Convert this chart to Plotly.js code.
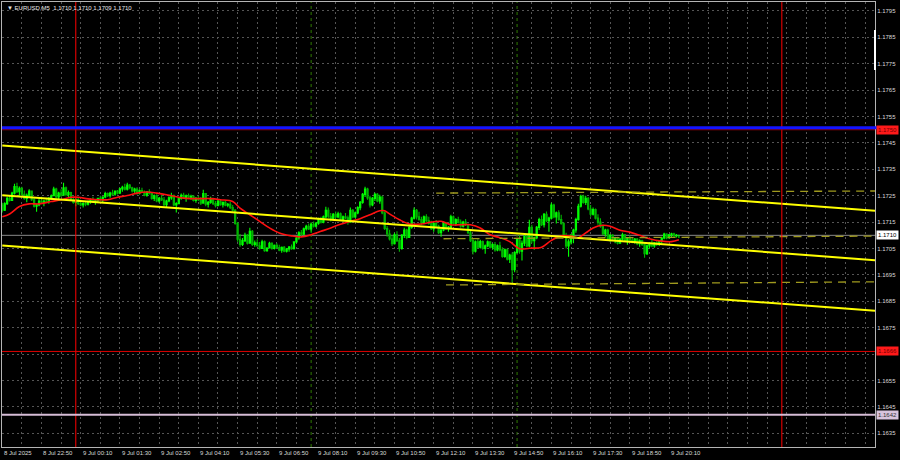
<!DOCTYPE html>
<html>
<head>
<meta charset="utf-8">
<script src="https://cdn.plot.ly/plotly-3.0.1.min.js"></script>
<style>
  html, body { margin: 0; padding: 0; background: #000; }
  #chart { width: 900px; height: 460px; }
</style>
</head>
<body>
<div id="chart"></div>
<script>
// EURUSD M5 candles, bar 0 = 8 Jul 21:30
const opens = [
 1.17215,1.17195,1.17220,1.17240,1.17232,1.17260,1.17285,1.17265,1.17278,1.17255,
 1.17240,1.17252,1.17268,1.17235,1.17210,1.17215,1.17230,1.17225,1.17230,1.17228,
 1.17240,1.17250,1.17275,1.17245,1.17260,1.17252,1.17280,1.17255,1.17262,1.17235,
 1.17225,1.17236,1.17220,1.17215,1.17220,1.17218,1.17228,1.17235,1.17226,1.17232,
 1.17240,1.17234,1.17245,1.17258,1.17250,1.17260,1.17256,1.17268,1.17260,1.17276,
 1.17282,1.17275,1.17290,1.17280,1.17268,1.17275,1.17260,1.17270,1.17263,1.17252,
 1.17265,1.17258,1.17240,1.17250,1.17230,1.17240,1.17234,1.17216,1.17230,1.17242,
 1.17250,1.17215,1.17220,1.17240,1.17252,1.17242,1.17250,1.17244,1.17248,1.17232,
 1.17240,1.17235,1.17222,1.17258,1.17218,1.17225,1.17238,1.17220,1.17212,1.17230,
 1.17216,1.17225,1.17214,1.17218,1.17205,1.17195,1.17145,1.17085,1.17065,1.17080,
 1.17100,1.17070,1.17115,1.17065,1.17072,1.17060,1.17050,1.17075,1.17042,1.17052,
 1.17070,1.17050,1.17062,1.17054,1.17044,1.17055,1.17040,1.17048,1.17056,1.17049,
 1.17075,1.17090,1.17110,1.17104,1.17125,1.17134,1.17124,1.17142,1.17135,1.17146,
 1.17160,1.17150,1.17170,1.17195,1.17172,1.17160,1.17180,1.17170,1.17182,1.17160,
 1.17170,1.17166,1.17150,1.17195,1.17170,1.17185,1.17205,1.17225,1.17255,1.17275,
 1.17242,1.17215,1.17240,1.17255,1.17230,1.17245,1.17185,1.17126,1.17105,1.17086,
 1.17068,1.17102,1.17080,1.17050,1.17100,1.17120,1.17092,1.17130,1.17165,1.17195,
 1.17170,1.17160,1.17148,1.17170,1.17155,1.17145,1.17125,1.17145,1.17134,1.17110,
 1.17120,1.17145,1.17125,1.17130,1.17170,1.17145,1.17160,1.17150,1.17135,1.17150,
 1.17140,1.17110,1.17080,1.17040,1.17075,1.17055,1.17076,1.17050,1.17060,1.17075,
 1.17055,1.17065,1.17045,1.17060,1.17045,1.17020,1.17045,1.17010,1.17025,1.16970,
 1.17035,1.17085,1.17040,1.17070,1.17095,1.17060,1.17130,1.17080,1.17090,1.17130,
 1.17160,1.17140,1.17180,1.17155,1.17165,1.17215,1.17170,1.17185,1.17160,1.17145,
 1.17095,1.17060,1.17075,1.17100,1.17120,1.17160,1.17210,1.17248,1.17225,1.17240,
 1.17200,1.17180,1.17198,1.17165,1.17150,1.17135,1.17105,1.17120,1.17086,1.17100,
 1.17085,1.17090,1.17070,1.17085,1.17102,1.17080,1.17090,1.17082,1.17075,1.17086,
 1.17068,1.17080,1.17065,1.17030,1.17060,1.17070,1.17060,1.17072,1.17065,1.17080,
 1.17090,1.17105,1.17090,1.17102,1.17106,1.17098,1.17100
];
const highs = [
 1.17223,1.17225,1.17246,1.17250,1.17265,1.17295,1.17299,1.17285,1.17284,1.17270,
 1.17258,1.17275,1.17270,1.17242,1.17220,1.17238,1.17246,1.17235,1.17242,1.17245,
 1.17255,1.17284,1.17280,1.17265,1.17275,1.17299,1.17285,1.17270,1.17265,1.17246,
 1.17240,1.17242,1.17235,1.17225,1.17230,1.17232,1.17240,1.17246,1.17238,1.17242,
 1.17250,1.17248,1.17265,1.17262,1.17265,1.17273,1.17270,1.17272,1.17280,1.17288,
 1.17295,1.17299,1.17294,1.17284,1.17280,1.17282,1.17275,1.17280,1.17270,1.17268,
 1.17275,1.17261,1.17255,1.17256,1.17245,1.17254,1.17245,1.17235,1.17248,1.17261,
 1.17255,1.17225,1.17245,1.17258,1.17261,1.17255,1.17258,1.17254,1.17252,1.17245,
 1.17250,1.17245,1.17273,1.17260,1.17230,1.17246,1.17242,1.17230,1.17235,1.17235,
 1.17228,1.17232,1.17222,1.17227,1.17215,1.17200,1.17150,1.17105,1.17090,1.17110,
 1.17105,1.17129,1.17120,1.17080,1.17085,1.17075,1.17083,1.17080,1.17055,1.17076,
 1.17074,1.17065,1.17070,1.17064,1.17058,1.17060,1.17052,1.17060,1.17065,1.17078,
 1.17095,1.17115,1.17120,1.17130,1.17140,1.17145,1.17148,1.17152,1.17150,1.17167,
 1.17170,1.17175,1.17208,1.17205,1.17185,1.17185,1.17190,1.17189,1.17186,1.17175,
 1.17185,1.17175,1.17205,1.17200,1.17190,1.17210,1.17230,1.17260,1.17284,1.17280,
 1.17250,1.17245,1.17261,1.17260,1.17254,1.17250,1.17190,1.17135,1.17121,1.17100,
 1.17110,1.17115,1.17090,1.17105,1.17129,1.17125,1.17135,1.17170,1.17205,1.17200,
 1.17189,1.17170,1.17175,1.17180,1.17170,1.17155,1.17150,1.17158,1.17140,1.17125,
 1.17152,1.17150,1.17135,1.17178,1.17175,1.17165,1.17170,1.17160,1.17155,1.17162,
 1.17145,1.17120,1.17090,1.17080,1.17085,1.17083,1.17080,1.17065,1.17080,1.17076,
 1.17070,1.17075,1.17065,1.17076,1.17055,1.17050,1.17050,1.17030,1.17035,1.17040,
 1.17090,1.17100,1.17080,1.17102,1.17100,1.17159,1.17140,1.17095,1.17135,1.17167,
 1.17175,1.17185,1.17190,1.17170,1.17223,1.17220,1.17190,1.17195,1.17178,1.17150,
 1.17110,1.17085,1.17105,1.17125,1.17167,1.17220,1.17254,1.17254,1.17250,1.17245,
 1.17215,1.17205,1.17202,1.17180,1.17165,1.17140,1.17125,1.17125,1.17105,1.17105,
 1.17095,1.17095,1.17090,1.17110,1.17105,1.17092,1.17100,1.17091,1.17090,1.17090,
 1.17085,1.17083,1.17070,1.17065,1.17075,1.17083,1.17075,1.17080,1.17082,1.17095,
 1.17110,1.17108,1.17105,1.17110,1.17110,1.17105,1.17100
];
const lows = [
 1.17186,1.17192,1.17215,1.17228,1.17230,1.17255,1.17260,1.17250,1.17250,1.17235,
 1.17225,1.17245,1.17230,1.17205,1.17189,1.17210,1.17220,1.17210,1.17222,1.17220,
 1.17235,1.17248,1.17240,1.17238,1.17245,1.17250,1.17248,1.17240,1.17230,1.17220,
 1.17210,1.17215,1.17210,1.17205,1.17210,1.17213,1.17220,1.17223,1.17216,1.17225,
 1.17230,1.17223,1.17240,1.17245,1.17242,1.17252,1.17250,1.17255,1.17258,1.17265,
 1.17270,1.17270,1.17275,1.17262,1.17258,1.17254,1.17255,1.17260,1.17248,1.17246,
 1.17255,1.17235,1.17230,1.17225,1.17223,1.17230,1.17210,1.17205,1.17225,1.17235,
 1.17210,1.17186,1.17218,1.17235,1.17238,1.17227,1.17238,1.17235,1.17228,1.17223,
 1.17230,1.17215,1.17220,1.17210,1.17205,1.17220,1.17215,1.17205,1.17210,1.17212,
 1.17205,1.17210,1.17206,1.17200,1.17189,1.17140,1.17076,1.17057,1.17060,1.17075,
 1.17065,1.17068,1.17060,1.17057,1.17058,1.17045,1.17048,1.17038,1.17038,1.17050,
 1.17045,1.17046,1.17050,1.17040,1.17034,1.17036,1.17035,1.17038,1.17045,1.17046,
 1.17070,1.17083,1.17098,1.17100,1.17118,1.17120,1.17110,1.17130,1.17130,1.17140,
 1.17145,1.17146,1.17165,1.17165,1.17152,1.17155,1.17165,1.17165,1.17155,1.17152,
 1.17162,1.17140,1.17148,1.17165,1.17165,1.17180,1.17195,1.17220,1.17245,1.17235,
 1.17205,1.17210,1.17230,1.17225,1.17220,1.17180,1.17120,1.17095,1.17080,1.17060,
 1.17065,1.17075,1.17038,1.17045,1.17090,1.17085,1.17090,1.17125,1.17160,1.17160,
 1.17155,1.17140,1.17145,1.17150,1.17140,1.17120,1.17114,1.17130,1.17105,1.17095,
 1.17115,1.17120,1.17114,1.17128,1.17140,1.17135,1.17145,1.17129,1.17130,1.17135,
 1.17105,1.17075,1.17027,1.17035,1.17050,1.17050,1.17045,1.17030,1.17055,1.17050,
 1.17045,1.17038,1.17040,1.17040,1.17015,1.17015,1.17005,1.16995,1.16921,1.16960,
 1.17030,1.17030,1.17005,1.17060,1.17055,1.17055,1.17070,1.17045,1.17085,1.17120,
 1.17135,1.17130,1.17150,1.17114,1.17160,1.17165,1.17145,1.17155,1.17140,1.17090,
 1.17050,1.17019,1.17065,1.17070,1.17110,1.17155,1.17205,1.17220,1.17215,1.17195,
 1.17170,1.17175,1.17160,1.17140,1.17129,1.17100,1.17095,1.17080,1.17076,1.17080,
 1.17070,1.17065,1.17068,1.17080,1.17075,1.17064,1.17078,1.17070,1.17068,1.17062,
 1.17057,1.17060,1.17015,1.17025,1.17050,1.17055,1.17053,1.17060,1.17060,1.17070,
 1.17085,1.17085,1.17088,1.17092,1.17095,1.17092,1.17090
];
const closes = [
 1.17195,1.17220,1.17240,1.17232,1.17260,1.17285,1.17265,1.17278,1.17255,1.17240,
 1.17252,1.17268,1.17235,1.17210,1.17215,1.17230,1.17225,1.17230,1.17228,1.17240,
 1.17250,1.17275,1.17245,1.17260,1.17252,1.17280,1.17255,1.17262,1.17235,1.17225,
 1.17236,1.17220,1.17215,1.17220,1.17218,1.17228,1.17235,1.17226,1.17232,1.17240,
 1.17234,1.17245,1.17258,1.17250,1.17260,1.17256,1.17268,1.17260,1.17276,1.17282,
 1.17275,1.17290,1.17280,1.17268,1.17275,1.17260,1.17270,1.17263,1.17252,1.17265,
 1.17258,1.17240,1.17250,1.17230,1.17240,1.17234,1.17216,1.17230,1.17242,1.17250,
 1.17215,1.17220,1.17240,1.17252,1.17242,1.17250,1.17244,1.17248,1.17232,1.17240,
 1.17235,1.17222,1.17258,1.17218,1.17225,1.17238,1.17220,1.17212,1.17230,1.17216,
 1.17225,1.17214,1.17218,1.17205,1.17195,1.17145,1.17085,1.17065,1.17080,1.17100,
 1.17070,1.17115,1.17065,1.17072,1.17060,1.17050,1.17075,1.17042,1.17052,1.17070,
 1.17050,1.17062,1.17054,1.17044,1.17055,1.17040,1.17048,1.17056,1.17049,1.17075,
 1.17090,1.17110,1.17104,1.17125,1.17134,1.17124,1.17142,1.17135,1.17146,1.17160,
 1.17150,1.17170,1.17195,1.17172,1.17160,1.17180,1.17170,1.17182,1.17160,1.17170,
 1.17166,1.17150,1.17195,1.17170,1.17185,1.17205,1.17225,1.17255,1.17275,1.17242,
 1.17215,1.17240,1.17255,1.17230,1.17245,1.17185,1.17126,1.17105,1.17086,1.17068,
 1.17102,1.17080,1.17050,1.17100,1.17120,1.17092,1.17130,1.17165,1.17195,1.17170,
 1.17160,1.17148,1.17170,1.17155,1.17145,1.17125,1.17145,1.17134,1.17110,1.17120,
 1.17145,1.17125,1.17130,1.17170,1.17145,1.17160,1.17150,1.17135,1.17150,1.17140,
 1.17110,1.17080,1.17040,1.17075,1.17055,1.17076,1.17050,1.17060,1.17075,1.17055,
 1.17065,1.17045,1.17060,1.17045,1.17020,1.17045,1.17010,1.17025,1.16970,1.17035,
 1.17085,1.17040,1.17070,1.17095,1.17060,1.17130,1.17080,1.17090,1.17130,1.17160,
 1.17140,1.17180,1.17155,1.17165,1.17215,1.17170,1.17185,1.17160,1.17145,1.17095,
 1.17060,1.17075,1.17100,1.17120,1.17160,1.17210,1.17248,1.17225,1.17240,1.17200,
 1.17180,1.17198,1.17165,1.17150,1.17135,1.17105,1.17120,1.17086,1.17100,1.17085,
 1.17090,1.17070,1.17085,1.17102,1.17080,1.17090,1.17082,1.17075,1.17086,1.17068,
 1.17080,1.17065,1.17030,1.17060,1.17070,1.17060,1.17072,1.17065,1.17080,1.17090,
 1.17105,1.17090,1.17102,1.17106,1.17098,1.17100,1.17100
];

// moving average (red), sampled along the bars
const maBars = [0,3,7,11,15,20,24,28,31,35,39,43,47,51,55,59,63,67,69,74,
  80,85,89,94,97,101,105,109,113,118,122,126,130,134,138,142,146,150,154,156,
  158,162,166,171,175,179,183,187,191,195,199,203,207,211,215,220,224,228,232,235,
  238,241,245,248,252,256,260,264,269,273,276];
const maValues = [1.17170,1.17181,1.17209,1.17219,1.17219,1.17228,1.17235,1.17244,1.17244,1.17238,
  1.17235,1.17235,1.17244,1.17251,1.17260,1.17264,1.17260,1.17254,1.17250,1.17241,
  1.17239,1.17239,1.17235,1.17228,1.17203,1.17178,1.17153,1.17128,1.17109,1.17098,
  1.17094,1.17102,1.17115,1.17128,1.17142,1.17153,1.17163,1.17178,1.17193,1.17193,
  1.17181,1.17159,1.17143,1.17143,1.17150,1.17153,1.17140,1.17140,1.17140,1.17128,
  1.17102,1.17091,1.17076,1.17049,1.17051,1.17055,1.17081,1.17098,1.17097,1.17091,
  1.17109,1.17128,1.17138,1.17134,1.17119,1.17112,1.17100,1.17087,1.17078,1.17076,
  1.17083];

// descending price channel (yellow), two anchor points each
const channelBars  = [0, 356];
const channelUpper = [1.17440, 1.17193];
const channelMid   = [1.17252, 1.17006];
const channelLower = [1.17061, 1.16814];

// horizontal dashed channel (olive)
const flatUpperBars = [177, 356], flatUpper = [1.17260, 1.17268];
const flatMidBars   = [180, 356], flatMid   = [1.17087, 1.17097];
const flatLowerBars = [181, 356], flatLower = [1.16912, 1.16924];

// levels
const blueLevel = 1.17508;
const redLevels = [1.1750, 1.1666];
const lilacLevel = 1.1642;

// session markers
const daySeparators = [30, 318];
const sessionMarks = [126, 210];

// axes
const priceTicks = [1.1635,1.1645,1.1655,1.1665,1.1675,1.1685,1.1695,1.1705,1.1715,
  1.1725,1.1735,1.1745,1.1755,1.1765,1.1775,1.1785,1.1795];
const gridBars = [0,8,16,24,32,40,48,56,64,72,80,88,96,104,112,120,128,136,144,152,
  160,168,176,184,192,200,208,216,224,232,240,248,256,264,272,280,288,296,304,312,
  320,328,336,344,352];
const timeLabelBars = [0,16,32,48,64,80,96,112,128,144,160,176,192,208,224,240,256,272];
const timeLabels = ["8 Jul 2025","8 Jul 22:50","9 Jul 00:10","9 Jul 01:30","9 Jul 02:50",
  "9 Jul 04:10","9 Jul 05:30","9 Jul 06:50","9 Jul 08:10","9 Jul 09:30","9 Jul 10:50",
  "9 Jul 12:10","9 Jul 13:30","9 Jul 14:50","9 Jul 16:10","9 Jul 17:30","9 Jul 18:50",
  "9 Jul 20:10"];

const FONT = "Liberation Sans, Arial, sans-serif";
const bars = opens.map((_, i) => i);
const last = opens.length - 1;
const lastClose = closes[last];
const tagPrices = [redLevels[0], redLevels[1], lilacLevel, lastClose];

const traces = [
  {
    type: 'candlestick', x: bars, open: opens, high: highs, low: lows, close: closes,
    increasing: { line: { color: '#00ff00', width: 1.1 }, fillcolor: '#00ff00' },
    decreasing: { line: { color: '#00b400', width: 1.1 }, fillcolor: '#00b400' },
    whiskerwidth: 0, hoverinfo: 'skip'
  },
  { type: 'scatter', mode: 'lines', x: maBars, y: maValues,
    line: { color: '#ff1010', width: 1.6, shape: 'spline' }, hoverinfo: 'skip' },
  { type: 'scatter', mode: 'lines', x: channelBars, y: channelUpper,
    line: { color: '#ffff00', width: 2 }, hoverinfo: 'skip' },
  { type: 'scatter', mode: 'lines', x: channelBars, y: channelMid,
    line: { color: '#ffff00', width: 2 }, hoverinfo: 'skip' },
  { type: 'scatter', mode: 'lines', x: channelBars, y: channelLower,
    line: { color: '#ffff00', width: 2 }, hoverinfo: 'skip' },
  { type: 'scatter', mode: 'lines', x: flatUpperBars, y: flatUpper,
    line: { color: '#a09a1e', width: 1.3, dash: '8px,6px' }, hoverinfo: 'skip' },
  { type: 'scatter', mode: 'lines', x: flatMidBars, y: flatMid,
    line: { color: '#a09a1e', width: 1.3, dash: '8px,6px' }, hoverinfo: 'skip' },
  { type: 'scatter', mode: 'lines', x: flatLowerBars, y: flatLower,
    line: { color: '#a09a1e', width: 1.3, dash: '8px,6px' }, hoverinfo: 'skip' }
];

const shapes = [];
// bid line
shapes.push({ type: 'line', xref: 'paper', x0: 0, x1: 1, yref: 'y', y0: lastClose, y1: lastClose,
  line: { color: '#8a8a8a', width: 1 }, layer: 'below' });
daySeparators.forEach(b => shapes.push({ type: 'line', xref: 'x', x0: b, x1: b, yref: 'paper', y0: 0, y1: 1,
  line: { color: '#ff0000', width: 1 }, layer: 'above' }));
sessionMarks.forEach(b => shapes.push({ type: 'line', xref: 'x', x0: b, x1: b, yref: 'paper', y0: 0, y1: 1,
  line: { color: '#2f7c00', width: 1, dash: 'dot' }, layer: 'below' }));
shapes.push({ type: 'line', xref: 'paper', x0: 0, x1: 1, yref: 'y', y0: redLevels[0], y1: redLevels[0],
  line: { color: '#a00000', width: 1 } });
shapes.push({ type: 'line', xref: 'paper', x0: 0, x1: 1.026, yref: 'y', y0: blueLevel, y1: blueLevel,
  line: { color: '#1414ff', width: 3 } });
shapes.push({ type: 'line', xref: 'paper', x0: 0, x1: 1, yref: 'y', y0: redLevels[1], y1: redLevels[1],
  line: { color: '#e00000', width: 1 } });
shapes.push({ type: 'line', xref: 'paper', x0: 0, x1: 1, yref: 'y', y0: lilacLevel, y1: lilacLevel,
  line: { color: '#d6bcd6', width: 2 } });
// white marker on the right border
shapes.push({ type: 'line', xref: 'paper', x0: 1, x1: 1, yref: 'paper', y0: 0.847, y1: 0.937,
  line: { color: '#ffffff', width: 2 } });

const annotations = [];
timeLabelBars.forEach((b, k) => annotations.push({
  xref: 'x', x: b, yref: 'paper', y: 0, xanchor: 'left', yanchor: 'top', yshift: -1,
  text: timeLabels[k], showarrow: false, font: { family: FONT, size: 6, color: '#d8d8d8' }
}));
function priceTag(v, bg, fg) {
  return { xref: 'paper', x: 1, xanchor: 'left', xshift: 1, yref: 'y', y: v, yanchor: 'middle',
    text: v.toFixed(4), showarrow: false, bgcolor: bg, borderpad: 1,
    font: { family: FONT, size: 6, color: fg } };
}
annotations.push(priceTag(redLevels[0], '#ff1a1a', '#700000'));
annotations.push(priceTag(redLevels[1], '#ff1a1a', '#700000'));
annotations.push(priceTag(lilacLevel, '#d8c4dc', '#333333'));
annotations.push(priceTag(lastClose, '#ffffff', '#000000'));
annotations.push({
  xref: 'paper', x: 0, yref: 'paper', y: 1, xanchor: 'left', yanchor: 'top', xshift: 3, yshift: -1,
  text: '\u25BC EURUSD,M5  ' + [opens[last], highs[last], lows[last], closes[last]].map(v => v.toFixed(4)).join(' '),
  showarrow: false, font: { family: FONT, size: 6, color: '#e8e8e8' }
});

// a price tag hides the scale label it sits on
const tickText = priceTicks.map(v =>
  tagPrices.some(t => Math.abs(t - v) < 0.00025) ? '' : v.toFixed(4));

const layout = {
  width: 900, height: 460,
  paper_bgcolor: '#000000', plot_bgcolor: '#000000',
  margin: { l: 2, r: 25, t: 2, b: 13, pad: 0 },
  showlegend: false,
  xaxis: {
    range: [-0.1, 356], tickvals: gridBars, showticklabels: false, ticks: '',
    showgrid: true, gridcolor: '#555555', griddash: '2px,3px', gridwidth: 1,
    zeroline: false, showline: true, linecolor: '#b4b4b4', linewidth: 1, mirror: true,
    rangeslider: { visible: false }, fixedrange: true
  },
  yaxis: {
    side: 'right', range: [1.16298, 1.17984],
    tickvals: priceTicks, ticktext: tickText,
    tickfont: { family: FONT, size: 6, color: '#d8d8d8' }, ticks: '',
    showgrid: true, gridcolor: '#555555', griddash: '2px,3px', gridwidth: 1,
    zeroline: false, showline: true, linecolor: '#b4b4b4', linewidth: 1, mirror: true,
    fixedrange: true
  },
  shapes: shapes,
  annotations: annotations
};

Plotly.newPlot('chart', traces, layout, { staticPlot: true, displayModeBar: false });
</script>
</body>
</html>
